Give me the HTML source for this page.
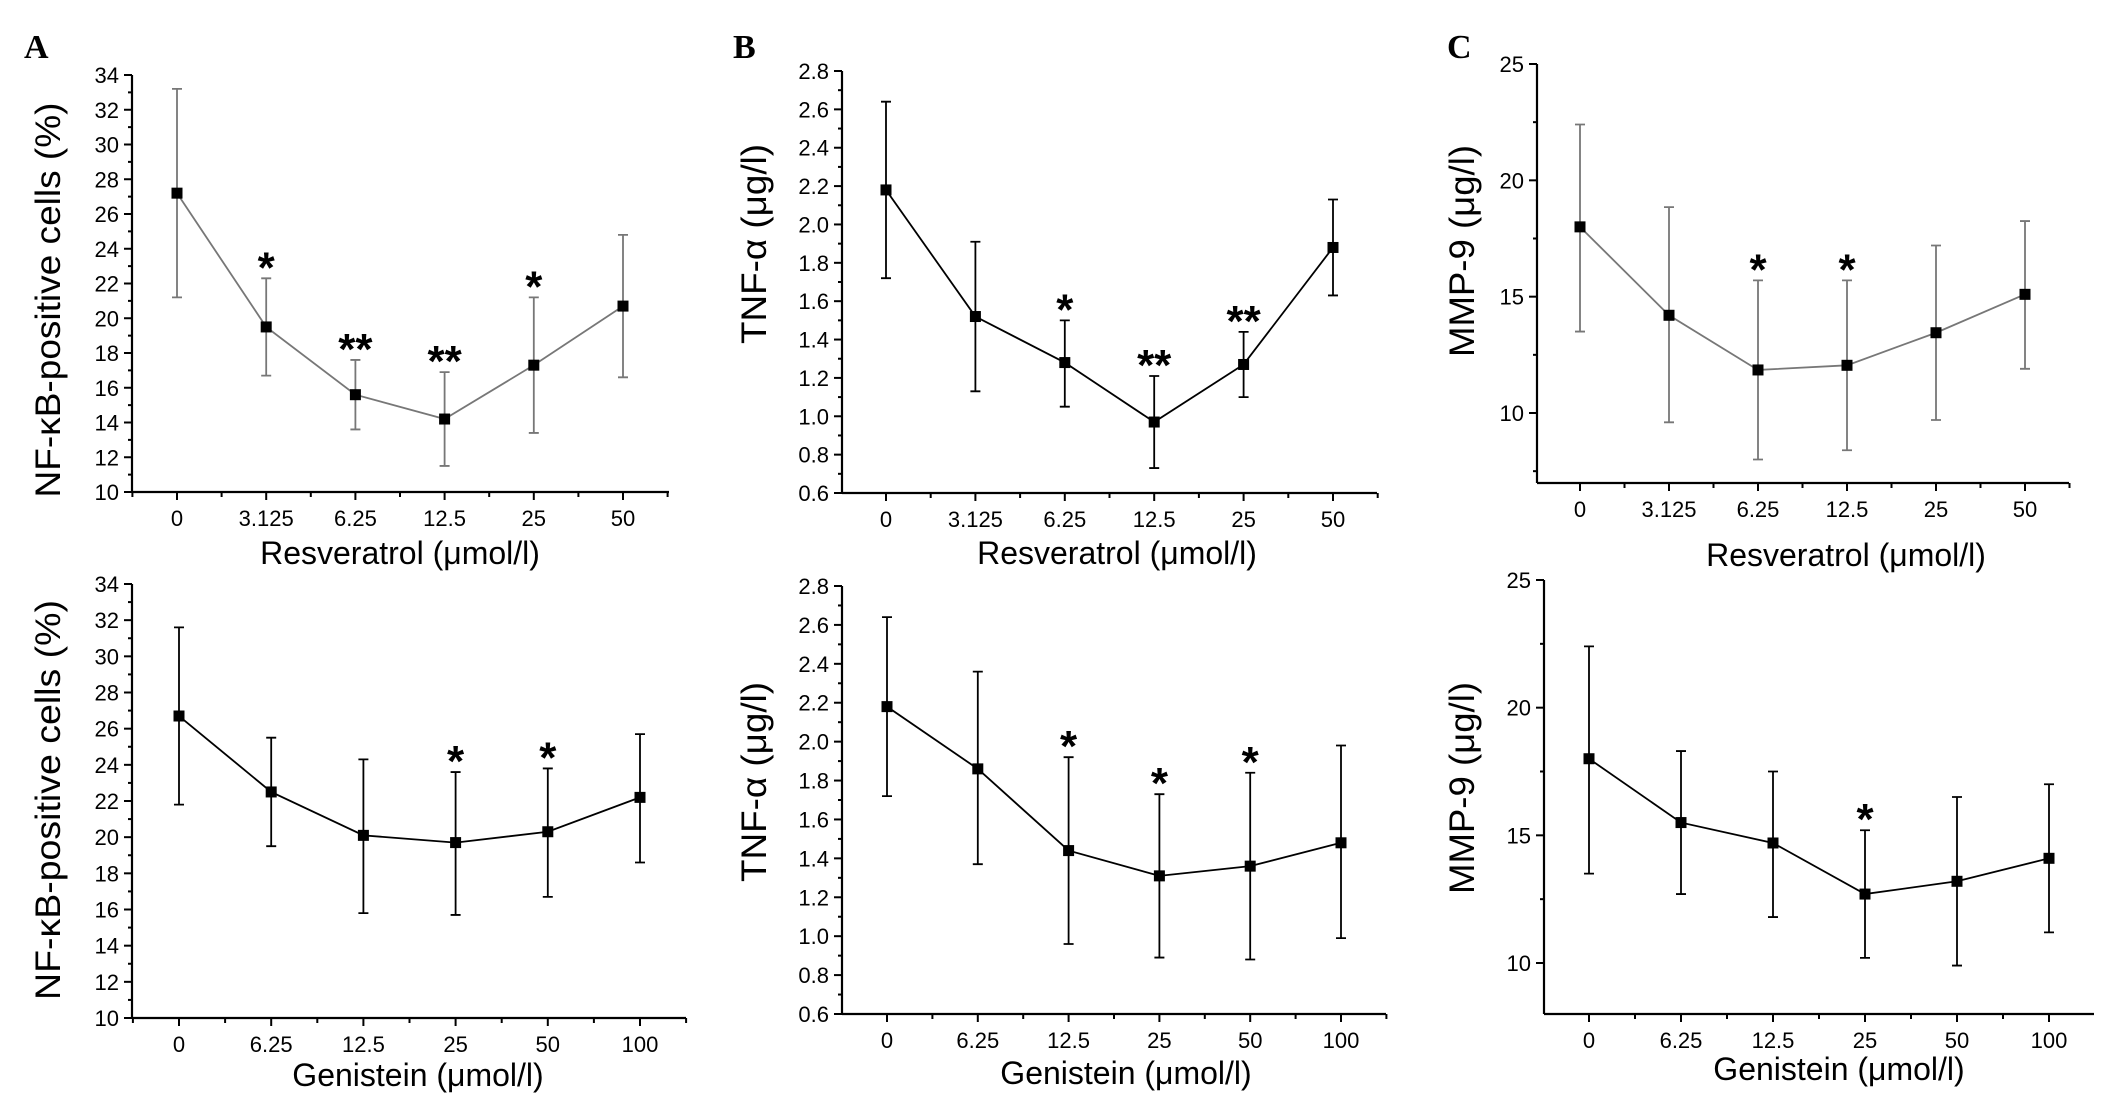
<!DOCTYPE html>
<html><head><meta charset="utf-8">
<style>
html,body{margin:0;padding:0;background:#fff;}
svg{display:block;font-family:"Liberation Sans",Arial,sans-serif;}
</style></head>
<body>
<svg id="fig" width="2126" height="1100" viewBox="0 0 2126 1100" xmlns="http://www.w3.org/2000/svg">
<rect width="2126" height="1100" fill="#fff"/>
<text x="24" y="58" font-family="Liberation Serif,serif" font-weight="bold" font-size="34">A</text>
<text x="733" y="58" font-family="Liberation Serif,serif" font-weight="bold" font-size="34">B</text>
<text x="1447" y="58" font-family="Liberation Serif,serif" font-weight="bold" font-size="34">C</text>
</svg>
<script>
// ---- data ----
const resCats = ["0","3.125","6.25","12.5","25","50"];
const genCats = ["0","6.25","12.5","25","50","100"];

const aTopMean = [27.2,19.5,15.6,14.2,17.3,20.7];
const aTopHi   = [33.2,22.3,17.6,16.9,21.2,24.8];
const aTopLo   = [21.2,16.7,13.6,11.5,13.4,16.6];
const aTopStars = ["","*","**","**","*",""];

const aBotMean = [26.7,22.5,20.1,19.7,20.3,22.2];
const aBotHi   = [31.6,25.5,24.3,23.6,23.8,25.7];
const aBotLo   = [21.8,19.5,15.8,15.7,16.7,18.6];
const aBotStars = ["","","","*","*",""];

const bTopMean = [2.18,1.52,1.28,0.97,1.27,1.88];
const bTopHi   = [2.64,1.91,1.50,1.21,1.44,2.13];
const bTopLo   = [1.72,1.13,1.05,0.73,1.10,1.63];
const bTopStars = ["","","*","**","**",""];

const bBotMean = [2.18,1.86,1.44,1.31,1.36,1.48];
const bBotHi   = [2.64,2.36,1.92,1.73,1.84,1.98];
const bBotLo   = [1.72,1.37,0.96,0.89,0.88,0.99];
const bBotStars = ["","","*","*","*",""];

const cTopMean = [18.0,14.2,11.85,12.05,13.45,15.1];
const cTopHi   = [22.4,18.85,15.7,15.7,17.2,18.25];
const cTopLo   = [13.5,9.6,8.0,8.4,9.7,11.9];
const cTopStars = ["","","*","*","",""];

const cBotMean = [18.0,15.5,14.7,12.7,13.2,14.1];
const cBotHi   = [22.4,18.3,17.5,15.2,16.5,17.0];
const cBotLo   = [13.5,12.7,11.8,10.2,9.9,11.2];
const cBotStars = ["","","","*","",""];

const aTicks = [10,12,14,16,18,20,22,24,26,28,30,32,34];
const bTicks = [0.6,0.8,1.0,1.2,1.4,1.6,1.8,2.0,2.2,2.4,2.6,2.8];
const cTicks = [10,15,20,25];

const NS = "http://www.w3.org/2000/svg";
const svg = document.getElementById("fig");
function mk(tag, attrs, parent){
  const e = document.createElementNS(NS, tag);
  for (const k in attrs) e.setAttribute(k, attrs[k]);
  (parent||svg).appendChild(e);
  return e;
}

function panel(cfg){
  const g = mk("g", {});
  
  
  const col = cfg.color;
  const n = cfg.cats.length;
  const step = (cfg.cat5 - cfg.cat0) / (n - 1);
  const xScale = i => cfg.cat0 + i * step;
  const yScale = v => cfg.yBot - (v - cfg.yMin) / (cfg.yMax - cfg.yMin) * (cfg.yBot - cfg.yTop);
  const axisBottom = cfg.axisBottom || yScale(cfg.yMin);
  const axisTop = cfg.axisTop || yScale(cfg.yMax);
  const ya = mk("line", {x1:cfg.axX, y1:axisTop, x2:cfg.axX, y2:axisBottom, stroke:"#000","stroke-width":2.2}, g);
  
  
  const xa = mk("line", {x1:cfg.axX, y1:axisBottom, x2:cfg.axEnd, y2:axisBottom, stroke:"#000","stroke-width":2.2}, g);
  
  
  cfg.yTicks.forEach(v => {
    const y = yScale(v);
    mk("line", {x1:cfg.axX-8, y1:y, x2:cfg.axX, y2:y, stroke:"#000","stroke-width":2}, g);
    const t = mk("text", {x:cfg.axX-13, y:y+8, "text-anchor":"end","font-size":22}, g);
    t.textContent = cfg.fmt(v);
    
    
  });
  cfg.yMinor.forEach(v => {
    const y = yScale(v);
    mk("line", {x1:cfg.axX-4, y1:y, x2:cfg.axX, y2:y, stroke:"#000","stroke-width":2}, g);
  });
  for (let i = 0; i < n; i++){
    const x = xScale(i);
    mk("line", {x1:x, y1:axisBottom, x2:x, y2:axisBottom+8, stroke:"#000","stroke-width":2}, g);
    const t = mk("text", {x:x, y:axisBottom+34, "text-anchor":"middle","font-size":22}, g);
    t.textContent = cfg.cats[i];
    
    
  }
  for (let i = -0.5; i < n; i += 1){
    const x = xScale(i);
    if (x > cfg.axX && x < cfg.axEnd + 1)
      mk("line", {x1:x, y1:axisBottom, x2:x, y2:axisBottom+5, stroke:"#000","stroke-width":2}, g);
  }
  const xt = mk("text", {x:cfg.xTitleX, y:cfg.xTitleY, "text-anchor":"middle","font-size":32}, g);
  xt.textContent = cfg.xTitle;
  
  
  const yt = mk("text", {x:0, y:0, "text-anchor":"middle","font-size":35,
    transform:`translate(${cfg.yTitleX},${cfg.yTitleY}) rotate(-90)`, textLength:cfg.yTitleLen, lengthAdjust:"spacingAndGlyphs"}, g);
  yt.textContent = cfg.yTitle;
  
  
  const pts = cfg.mean.map((v,i) => xScale(i)+","+yScale(v)).join(" ");
  const pl = mk("polyline", {points:pts, fill:"none", stroke:col, "stroke-width":1.8}, g);
  
  
  cfg.mean.forEach((v,i) => {
    const x = xScale(i);
    const yh = yScale(cfg.hi[i]), yl = yScale(cfg.lo[i]);
    const eb = mk("path", {d:`M${x},${yh}V${yl}M${x-5},${yh}H${x+5}M${x-5},${yl}H${x+5}`, stroke:col, "stroke-width":1.8, fill:"none"}, g);
    
    
    const m = mk("rect", {x:x-5.5, y:yScale(v)-5.5, width:11, height:11, fill:"#000"}, g);
    
    
    if (cfg.stars[i]){
      const s = mk("text", {x:x, y:yh+4, "text-anchor":"middle","font-size":44,"font-weight":"bold"}, g);
      s.textContent = cfg.stars[i];
      
      
    }
  });
}

const f0 = v => String(v);
const f1 = v => v.toFixed(1);
const aMinor = [11,13,15,17,19,21,23,25,27,29,31,33];
const bMinor = [0.7,0.9,1.1,1.3,1.5,1.7,1.9,2.1,2.3,2.5,2.7];
const cMinorTop = [7.5,12.5,17.5,22.5];
const cMinorBot = [12.5,17.5,22.5];

panel({name:"chart-a-resveratrol", color:"#777", cats:resCats, mean:aTopMean, hi:aTopHi, lo:aTopLo, stars:aTopStars,
  axX:132, axEnd:669, cat0:177, cat5:623, yTop:75, yBot:492, yMin:10, yMax:34, yTicks:aTicks, yMinor:aMinor, fmt:f0,
  xTitle:"Resveratrol (μmol/l)", xTitleX:400, xTitleY:564, yTitle:"NF-κB-positive cells (%)", yTitleX:60, yTitleY:300, yTitleLen:395});
panel({name:"chart-a-genistein", color:"#000", cats:genCats, mean:aBotMean, hi:aBotHi, lo:aBotLo, stars:aBotStars,
  axX:132, axEnd:686, cat0:179, cat5:640, yTop:584, yBot:1018, yMin:10, yMax:34, yTicks:aTicks, yMinor:aMinor, fmt:f0,
  xTitle:"Genistein (μmol/l)", xTitleX:418, xTitleY:1086, yTitle:"NF-κB-positive cells (%)", yTitleX:60, yTitleY:800, yTitleLen:400});
panel({name:"chart-b-resveratrol", color:"#000", cats:resCats, mean:bTopMean, hi:bTopHi, lo:bTopLo, stars:bTopStars,
  axX:842, axEnd:1377, cat0:886, cat5:1333, yTop:71, yBot:493, yMin:0.6, yMax:2.8, yTicks:bTicks, yMinor:bMinor, fmt:f1,
  xTitle:"Resveratrol (μmol/l)", xTitleX:1117, xTitleY:564, yTitle:"TNF-α (μg/l)", yTitleX:766, yTitleY:244, yTitleLen:200});
panel({name:"chart-b-genistein", color:"#000", cats:genCats, mean:bBotMean, hi:bBotHi, lo:bBotLo, stars:bBotStars,
  axX:842, axEnd:1386, cat0:887, cat5:1341, yTop:586, yBot:1014, yMin:0.6, yMax:2.8, yTicks:bTicks, yMinor:bMinor, fmt:f1,
  xTitle:"Genistein (μmol/l)", xTitleX:1126, xTitleY:1084, yTitle:"TNF-α (μg/l)", yTitleX:766, yTitleY:782, yTitleLen:200});
panel({name:"chart-c-resveratrol", color:"#777", cats:resCats, mean:cTopMean, hi:cTopHi, lo:cTopLo, stars:cTopStars,
  axX:1537, axEnd:2069, cat0:1580, cat5:2025, yTop:64, yBot:413, yMin:10, yMax:25, axisBottom:483, yTicks:cTicks, yMinor:cMinorTop, fmt:f0,
  xTitle:"Resveratrol (μmol/l)", xTitleX:1846, xTitleY:566, yTitle:"MMP-9 (μg/l)", yTitleX:1474, yTitleY:251, yTitleLen:212});
panel({name:"chart-c-genistein", color:"#000", cats:genCats, mean:cBotMean, hi:cBotHi, lo:cBotLo, stars:cBotStars,
  axX:1544, axEnd:2094, cat0:1589, cat5:2049, yTop:580, yBot:963, yMin:10, yMax:25, axisBottom:1014, yTicks:cTicks, yMinor:cMinorBot, fmt:f0,
  xTitle:"Genistein (μmol/l)", xTitleX:1839, xTitleY:1080, yTitle:"MMP-9 (μg/l)", yTitleX:1474, yTitleY:788, yTitleLen:212});
</script>
</body></html>
